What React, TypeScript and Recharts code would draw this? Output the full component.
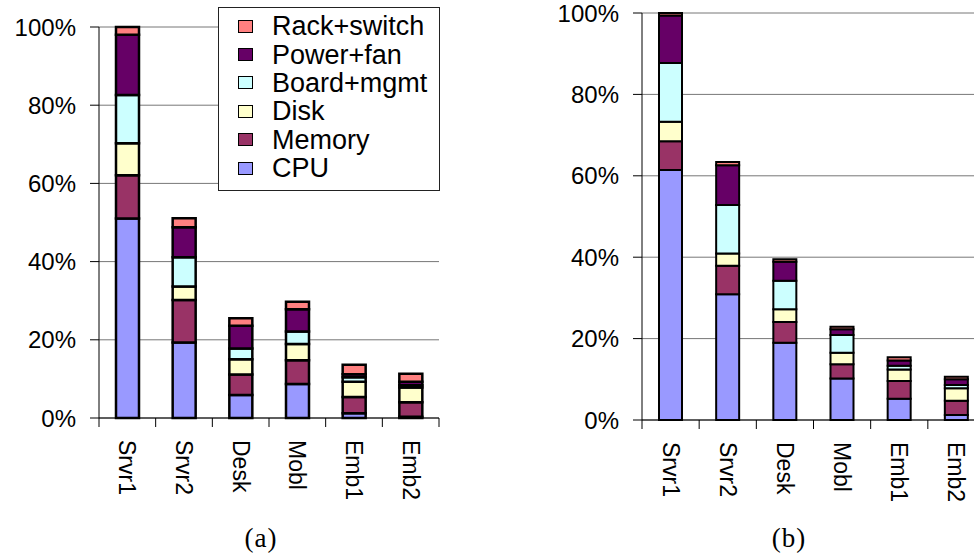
import React from 'react';
import {
  BarChart,
  Bar,
  XAxis,
  YAxis,
  CartesianGrid,
  Legend
} from 'recharts';

// platform classes on the x axis
const categories = ['Srvr1', 'Srvr2', 'Desk', 'Mobl', 'Emb1', 'Emb2'];

// (a) cost breakdown, percent of Srvr1 total
const cpuA = [51.0, 19.3, 5.9, 8.7, 1.2, 0.3];
const memoryA = [11.1, 10.9, 5.2, 6.1, 4.2, 3.7];
const diskA = [8.2, 3.4, 3.9, 4.1, 3.9, 3.8];
const boardA = [12.3, 7.5, 2.8, 3.2, 1.1, 0.6];
const powerA = [15.4, 7.7, 5.8, 5.7, 0.8, 0.9];
const rackA = [2.0, 2.3, 1.9, 1.9, 2.4, 2.0];

// (b) power breakdown, percent of Srvr1 total
const cpuB = [61.4, 30.9, 19.0, 10.2, 5.2, 1.2];
const memoryB = [7.1, 7.0, 5.1, 3.5, 4.4, 3.5];
const diskB = [4.8, 3.0, 3.1, 2.8, 2.8, 3.1];
const boardB = [14.4, 11.9, 7.0, 4.4, 0.9, 0.8];
const powerB = [11.7, 9.8, 4.7, 1.4, 1.3, 1.4];
const rackB = [0.6, 0.8, 0.6, 0.6, 0.8, 0.6];

const yTicks = [0, 20, 40, 60, 80, 100];

const series = [
  { key: 'cpu', name: 'CPU', color: '#9999FF' },
  { key: 'memory', name: 'Memory', color: '#993366' },
  { key: 'disk', name: 'Disk', color: '#FFFFCC' },
  { key: 'board', name: 'Board+mgmt', color: '#CCFFFF' },
  { key: 'power', name: 'Power+fan', color: '#660066' },
  { key: 'rack', name: 'Rack+switch', color: '#FF8080' }
];

const buildRows = (cols: number[][]) =>
  categories.map((name, i) => ({
    name,
    cpu: cols[0][i],
    memory: cols[1][i],
    disk: cols[2][i],
    board: cols[3][i],
    power: cols[4][i],
    rack: cols[5][i]
  }));

const dataA = buildRows([cpuA, memoryA, diskA, boardA, powerA, rackA]);
const dataB = buildRows([cpuB, memoryB, diskB, boardB, powerB, rackB]);

const SANS = '"Liberation Sans", Arial, sans-serif';

// category labels rotated downwards, tick marks sit on the category borders
const makeTick = (axisY: number, band: number) => (props: any) => {
  const { x, payload } = props;
  const idx = categories.indexOf(payload.value);
  return (
    <g>
      {idx === 0 && (
        <line x1={x - band / 2} y1={axisY} x2={x - band / 2} y2={axisY + 9} stroke='#000' />
      )}
      <line x1={x + band / 2} y1={axisY} x2={x + band / 2} y2={axisY + 9} stroke='#000' />
      <text
        transform={`translate(${x},${axisY + 22}) rotate(90)`}
        dy='0.35em'
        textAnchor='start'
        fontFamily={SANS}
        fontSize={23}
        fill='#000'
      >
        {payload.value}
      </text>
    </g>
  );
};

const LegendBox = () => (
  <div
    style={{
      width: 220,
      height: 178,
      border: '1px solid #222',
      background: '#fff',
      boxSizing: 'content-box',
      paddingTop: 4,
      fontFamily: SANS,
      fontSize: 27
    }}
  >
    {[...series].reverse().map(s => (
      <div key={s.key} style={{ display: 'flex', alignItems: 'center', height: 28.4 }}>
        <span
          style={{
            display: 'inline-block',
            width: 13,
            height: 11,
            marginLeft: 19,
            marginRight: 19,
            background: s.color,
            border: '1px solid #000'
          }}
        />
        <span style={{ color: '#000', lineHeight: '28px' }}>{s.name}</span>
      </div>
    ))}
  </div>
);

type PanelProps = {
  data: any[];
  width: number;
  yAxisWidth: number;
  top: number;
  right: number;
  axisHeight: number;
  strokeWidth: number;
  border?: boolean;
  legend?: boolean;
};

function Panel({ data, width, yAxisWidth, top, right, axisHeight, strokeWidth, border, legend }: PanelProps) {
  const height = 556;
  const axisY = height - axisHeight;
  const band = (width - right - yAxisWidth) / categories.length;
  return (
    <BarChart
      width={width}
      height={height}
      data={data}
      margin={{ top, right, left: 0, bottom: 0 }}
    >
      <CartesianGrid vertical={false} stroke='#777' />
      <XAxis
        dataKey='name'
        height={axisHeight}
        interval={0}
        tickLine={false}
        axisLine={{ stroke: '#000' }}
        tick={makeTick(axisY, band)}
      />
      <YAxis
        width={yAxisWidth}
        domain={[0, 100]}
        ticks={yTicks}
        interval={0}
        tickSize={9}
        tickMargin={14}
        tickFormatter={v => `${v}%`}
        tickLine={{ stroke: '#000' }}
        axisLine={{ stroke: '#000' }}
        tick={{ fill: '#000', fontSize: 24, fontFamily: SANS }}
      />
      {border && (
        <YAxis
          yAxisId='frame'
          orientation='right'
          width={0}
          domain={[0, 100]}
          tick={false}
          tickLine={false}
          axisLine={{ stroke: '#888' }}
        />
      )}
      {series.map(s => (
        <Bar
          key={s.key}
          dataKey={s.key}
          name={s.name}
          stackId='total'
          fill={s.color}
          stroke='#000'
          strokeWidth={strokeWidth}
          barSize={23}
          isAnimationActive={false}
        />
      ))}
      {legend && (
        <Legend
          layout='vertical'
          align='center'
          verticalAlign='middle'
          content={() => <LegendBox />}
          wrapperStyle={{ position: 'absolute', left: 218, top: 7, width: 222, height: 182 }}
        />
      )}
    </BarChart>
  );
}

const captionStyle: React.CSSProperties = {
  position: 'absolute',
  top: 523,
  width: 80,
  textAlign: 'center',
  fontFamily: '"Liberation Serif", "Times New Roman", serif',
  fontSize: 27,
  letterSpacing: 1,
  color: '#000'
};

export default function App() {
  return (
    <div
      style={{
        position: 'absolute',
        left: 0,
        top: 0,
        width: 974,
        height: 556,
        overflow: 'hidden',
        background: '#fff'
      }}
    >
      <div style={{ position: 'absolute', left: 0, top: 0 }}>
        <Panel
          data={dataA}
          width={460}
          yAxisWidth={99}
          top={27}
          right={21}
          axisHeight={138}
          strokeWidth={2.5}
          border
          legend
        />
      </div>
      <div style={{ position: 'absolute', left: 480, top: 0 }}>
        <Panel
          data={dataB}
          width={520}
          yAxisWidth={162}
          top={13}
          right={15}
          axisHeight={136}
          strokeWidth={2}
        />
      </div>
      <div style={{ ...captionStyle, left: 221 }}>(a)</div>
      <div style={{ ...captionStyle, left: 749 }}>(b)</div>
    </div>
  );
}
